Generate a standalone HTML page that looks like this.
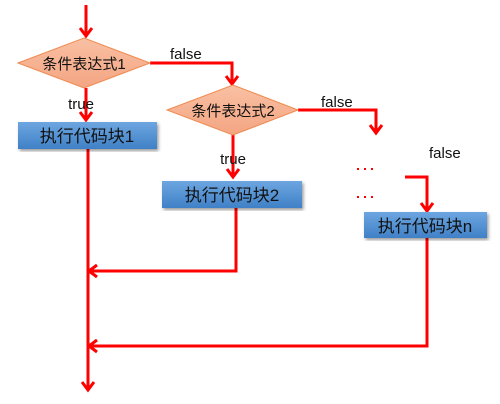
<!DOCTYPE html>
<html><head><meta charset="utf-8"><style>
body{margin:0;background:#fff;width:500px;height:404px;overflow:hidden}
svg{display:block}
text{font-family:"Liberation Sans","Noto Sans CJK SC",sans-serif}
</style></head><body>
<svg width="500" height="404" viewBox="0 0 500 404">
<defs>
<linearGradient id="b" x1="0" y1="0" x2="0" y2="1"><stop offset="0" stop-color="#6da6e0"/><stop offset="1" stop-color="#3f80c6"/></linearGradient>
<linearGradient id="d" x1="0" y1="0" x2="0" y2="1"><stop offset="0" stop-color="#f9c0a3"/><stop offset="1" stop-color="#f3a582"/></linearGradient>
<filter id="s"><feDropShadow dx="1.5" dy="2" stdDeviation="1.5" flood-color="#000" flood-opacity="0.4"/></filter>
</defs>
<g stroke="#ff0000" stroke-width="3" fill="none">
<path d="M86 5V36"/><path d="M80 28L86 36L92 28"/>
<path d="M86 88V120"/><path d="M80 112L86 120L92 112"/>
<path d="M150 63H232V84"/><path d="M226 76L232 84L238 76"/>
<path d="M233 135V177"/><path d="M227 169L233 177L239 169"/>
<path d="M298 110H376V133"/><path d="M370 125L376 133L382 125"/>
<path d="M405 177H427V211"/><path d="M421 203L427 211L433 203"/>
<path d="M88 149V390"/><path d="M82 382L88 390L94 382"/>
<path d="M236 208V271H89"/><path d="M97 265L89 271L97 277"/>
<path d="M427 238V346H89"/><path d="M97 340L89 346L97 352"/>
</g>
<g stroke="#ff0000" stroke-width="2" stroke-dasharray="2,5">
<path d="M357 169H378"/><path d="M357 197H378"/>
</g>
<polygon points="18,63 84,38 150,63 84,88" fill="url(#d)" stroke="#f08a50" stroke-width="1"/>
<polygon points="167,110 233,85 298,110 233,135" fill="url(#d)" stroke="#f08a50" stroke-width="1"/>
<rect x="18" y="122" width="139" height="27" fill="url(#b)" filter="url(#s)"/>
<rect x="162" y="181" width="140" height="27" fill="url(#b)" filter="url(#s)"/>
<rect x="364" y="212" width="123" height="26" fill="url(#b)" filter="url(#s)"/>
<g font-size="15" fill="#111">
<text x="84" y="69" text-anchor="middle">条件表达式1</text>
<text x="233" y="116" text-anchor="middle">条件表达式2</text>
<text x="87" y="142" text-anchor="middle" font-size="17">执行代码块1</text>
<text x="232" y="201" text-anchor="middle" font-size="17">执行代码块2</text>
<text x="425" y="232" text-anchor="middle" font-size="17">执行代码块n</text>
<text x="81" y="109" text-anchor="middle">true</text>
<text x="233" y="164" text-anchor="middle">true</text>
<text x="170" y="59">false</text>
<text x="321" y="107">false</text>
<text x="429" y="158">false</text>
</g>
</svg>
</body></html>
